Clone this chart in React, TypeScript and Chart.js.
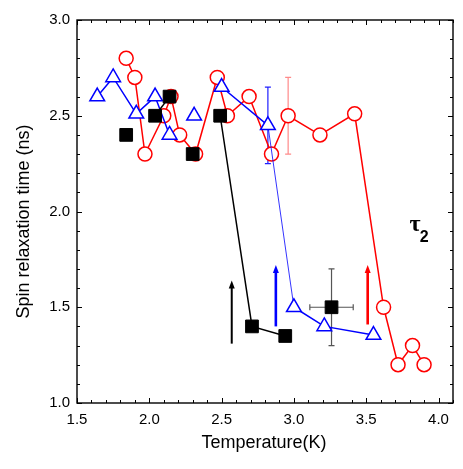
import React, { useEffect, useRef } from 'react';
import { Chart, registerables } from 'chart.js';

Chart.register(...registerables);

// ---- data ----
const xTicks = [1.5, 2.0, 2.5, 3.0, 3.5, 4.0];
const yTicks = [1.0, 1.5, 2.0, 2.5, 3.0];

const redT = [1.84, 1.90, 1.97, 2.10, 2.15, 2.21, 2.32, 2.47, 2.54, 2.69, 2.845, 2.96, 3.18, 3.42, 3.62, 3.72, 3.82, 3.90];
const redTau = [2.80, 2.70, 2.30, 2.50, 2.60, 2.40, 2.30, 2.70, 2.50, 2.60, 2.30, 2.50, 2.40, 2.51, 1.50, 1.20, 1.30, 1.20];

const blueT = [1.64, 1.75, 1.91, 2.04, 2.14, 2.31, 2.50, 2.82, 3.00, 3.21, 3.55];
const blueTau = [2.60, 2.70, 2.51, 2.60, 2.40, 2.50, 2.65, 2.45, 1.50, 1.40, 1.355];
const blueBreaks = [4, 5];
const blueThin = [7];

const blackT = [1.84, 2.04, 2.14, 2.30, 2.49, 2.71, 2.94, 3.26];
const blackTau = [2.40, 2.50, 2.60, 2.30, 2.50, 1.40, 1.35, 1.50];
const blackBreaks = [0, 2, 3, 6];

const errT = [2.96, 2.82, 3.26];
const errTau = [2.50, 2.45, 1.50];
const errDT = [0, 0, 0.15];
const errDTau = [0.2, 0.2, 0.2];
const errColors = ['rgba(255,60,60,0.6)', '#2020ff', '#555555'];

const arrowT = [2.57, 2.875, 3.51];
const arrowFrom = [1.31, 1.40, 1.41];
const arrowTo = [1.64, 1.72, 1.72];
const arrowColors = ['#000000', '#0000ff', '#ff0000'];

const labelT = 3.80;
const labelTau = 1.90;

const yTitle = 'Spin relaxation time (ns)';
const xTitle = 'Temperature(K)';

const pts = (xs: number[], ys: number[]) => xs.map((x, i) => ({ x, y: ys[i] }));

const framePlugin = {
  id: 'frameTicks',
  beforeDatasetsDraw(chart: any) {
    const { ctx, scales } = chart;
    const xs = scales.x, ys = scales.y;
    ctx.save();
    // error bars
    for (let i = 0; i < errT.length; i++) {
      const cx = xs.getPixelForValue(errT[i]);
      const cy = ys.getPixelForValue(errTau[i]);
      const y1 = ys.getPixelForValue(errTau[i] + errDTau[i]);
      const y2 = ys.getPixelForValue(errTau[i] - errDTau[i]);
      ctx.strokeStyle = errColors[i];
      ctx.lineWidth = 1.2;
      ctx.beginPath();
      ctx.moveTo(cx, y1); ctx.lineTo(cx, y2);
      ctx.moveTo(cx - 3, y1); ctx.lineTo(cx + 3, y1);
      ctx.moveTo(cx - 3, y2); ctx.lineTo(cx + 3, y2);
      if (errDT[i] > 0) {
        const x1 = xs.getPixelForValue(errT[i] - errDT[i]);
        const x2 = xs.getPixelForValue(errT[i] + errDT[i]);
        ctx.moveTo(x1, cy); ctx.lineTo(x2, cy);
        ctx.moveTo(x1, cy - 3); ctx.lineTo(x1, cy + 3);
        ctx.moveTo(x2, cy - 3); ctx.lineTo(x2, cy + 3);
      }
      ctx.stroke();
    }
    // arrows
    for (let i = 0; i < arrowT.length; i++) {
      const ax = xs.getPixelForValue(arrowT[i]);
      const ya = ys.getPixelForValue(arrowFrom[i]);
      const yb = ys.getPixelForValue(arrowTo[i]);
      ctx.strokeStyle = arrowColors[i];
      ctx.fillStyle = arrowColors[i];
      ctx.lineWidth = i === 0 ? 2 : 2.6;
      ctx.beginPath();
      ctx.moveTo(ax, ya); ctx.lineTo(ax, yb + 6);
      ctx.stroke();
      ctx.beginPath();
      ctx.moveTo(ax, yb);
      ctx.lineTo(ax - 3, yb + 8);
      ctx.lineTo(ax + 3, yb + 8);
      ctx.closePath();
      ctx.fill();
    }
    ctx.restore();
  },
  afterDraw(chart: any) {
    const { ctx, chartArea, scales } = chart;
    const { left, right, top, bottom } = chartArea;
    const xs = scales.x, ys = scales.y;
    ctx.save();
    ctx.strokeStyle = '#000';
    ctx.lineWidth = 1.4;
    ctx.strokeRect(left, top, right - left, bottom - top);
    ctx.lineWidth = 1;
    ctx.beginPath();
    const nx = Math.round((xs.max - xs.min) / 0.1);
    for (let i = 0; i <= nx; i++) {
      const v = xs.min + i * 0.1;
      const major = Math.abs(v * 2 - Math.round(v * 2)) < 1e-6;
      const len = major ? 5 : 3;
      const px = Math.round(xs.getPixelForValue(v)) + 0.5;
      ctx.moveTo(px, bottom); ctx.lineTo(px, bottom - len);
      ctx.moveTo(px, top); ctx.lineTo(px, top + len);
    }
    const ny = Math.round((ys.max - ys.min) / 0.1);
    for (let i = 0; i <= ny; i++) {
      const v = ys.min + i * 0.1;
      const major = Math.abs(v * 2 - Math.round(v * 2)) < 1e-6;
      const len = major ? 5 : 3;
      const py = Math.round(ys.getPixelForValue(v)) + 0.5;
      ctx.moveTo(left, py); ctx.lineTo(left + len, py);
      ctx.moveTo(right, py); ctx.lineTo(right - len, py);
    }
    ctx.stroke();
    // y title
    ctx.fillStyle = '#000';
    ctx.font = '18px "Liberation Sans"';
    ctx.textAlign = 'center';
    ctx.textBaseline = 'middle';
    ctx.save();
    ctx.translate(left - 53, (top + bottom) / 2 + 10);
    ctx.rotate(-Math.PI / 2);
    ctx.fillText(yTitle, 0, 0);
    ctx.restore();
    // x title
    ctx.textBaseline = 'alphabetic';
    ctx.fillText(xTitle, (left + right) / 2 - 1, bottom + 45);
    // tau_2 label
    const lx = xs.getPixelForValue(labelT);
    const ly = ys.getPixelForValue(labelTau);
    ctx.textBaseline = 'alphabetic';
    ctx.textAlign = 'left';
    ctx.font = 'bold 24px "Liberation Serif"';
    ctx.fillText('τ', lx, ly);
    const w = ctx.measureText('τ').width;
    ctx.font = 'bold 16px "Liberation Sans"';
    ctx.fillText('2', lx + w - 1, ly + 11);
    ctx.restore();
  },
};

export default function App() {
  const ref = useRef<HTMLCanvasElement>(null);
  useEffect(() => {
    document.body.style.margin = '0';
    const canvas = ref.current!;
    const font = { family: '"Liberation Sans", Arial, sans-serif', size: 15 };
    const chart = new Chart(canvas, {
      type: 'scatter',
      data: {
        datasets: [
          {
            data: pts(blackT, blackTau),
            showLine: true,
            order: 1,
            borderColor: '#000',
            backgroundColor: '#000',
            borderWidth: 1.5,
            pointStyle: 'rect',
            pointRadius: 9,
            pointBorderWidth: 1,
            pointBorderColor: '#000',
            pointBackgroundColor: '#000',
            segment: {
              borderColor: (c: any) => (blackBreaks.includes(c.p0DataIndex) ? 'rgba(0,0,0,0)' : '#000'),
            },
          } as any,
          {
            data: pts(blueT, blueTau),
            showLine: true,
            order: 2,
            borderColor: '#0000ff',
            backgroundColor: '#fff',
            borderWidth: 1.5,
            pointStyle: 'triangle',
            pointRadius: 8.5,
            pointBorderWidth: 1.5,
            pointBorderColor: '#0000ff',
            pointBackgroundColor: '#fff',
            segment: {
              borderColor: (c: any) => (blueBreaks.includes(c.p0DataIndex) ? 'rgba(0,0,0,0)' : '#0000ff'),
              borderWidth: (c: any) => (blueThin.includes(c.p0DataIndex) ? 0.8 : 1.5),
            },
          } as any,
          {
            data: pts(redT, redTau),
            showLine: true,
            order: 3,
            borderColor: '#ff0000',
            backgroundColor: '#fff',
            borderWidth: 1.5,
            pointStyle: 'circle',
            pointRadius: 7,
            pointBorderWidth: 1.5,
            pointBorderColor: '#ff0000',
            pointBackgroundColor: '#fff',
          } as any,
        ],
      },
      options: {
        animation: false,
        responsive: false,
        devicePixelRatio: 1,
        layout: { padding: { top: 20, right: 9, left: 0, bottom: 0 } },
        plugins: { legend: { display: false }, tooltip: { enabled: false } },
        elements: { line: { tension: 0 } },
        scales: {
          x: {
            type: 'linear',
            min: 1.5,
            max: 4.1,
            grid: { display: false, drawTicks: false },
            border: { display: false },
            afterBuildTicks: (s: any) => { s.ticks = xTicks.map((v) => ({ value: v })); },
            afterFit: (s: any) => { s.height = 66; },
            ticks: {
              color: '#000',
              font,
              padding: 8,
              maxRotation: 0,
              callback: (v: any) => Number(v).toFixed(1),
            },
          },
          y: {
            type: 'linear',
            min: 1.0,
            max: 3.0,
            grid: { display: false, drawTicks: false },
            border: { display: false },
            afterBuildTicks: (s: any) => { s.ticks = yTicks.map((v) => ({ value: v })); },
            afterFit: (s: any) => { s.width = 77; },
            ticks: {
              color: '#000',
              font,
              padding: 7,
              callback: (v: any) => Number(v).toFixed(1),
            },
          },
        },
      },
      plugins: [framePlugin],
    } as any);
    return () => chart.destroy();
  }, []);
  return (
    <div style={{ width: 463, height: 469 }}>
      <canvas ref={ref} width={463} height={469} style={{ display: 'block' }} />
    </div>
  );
}
